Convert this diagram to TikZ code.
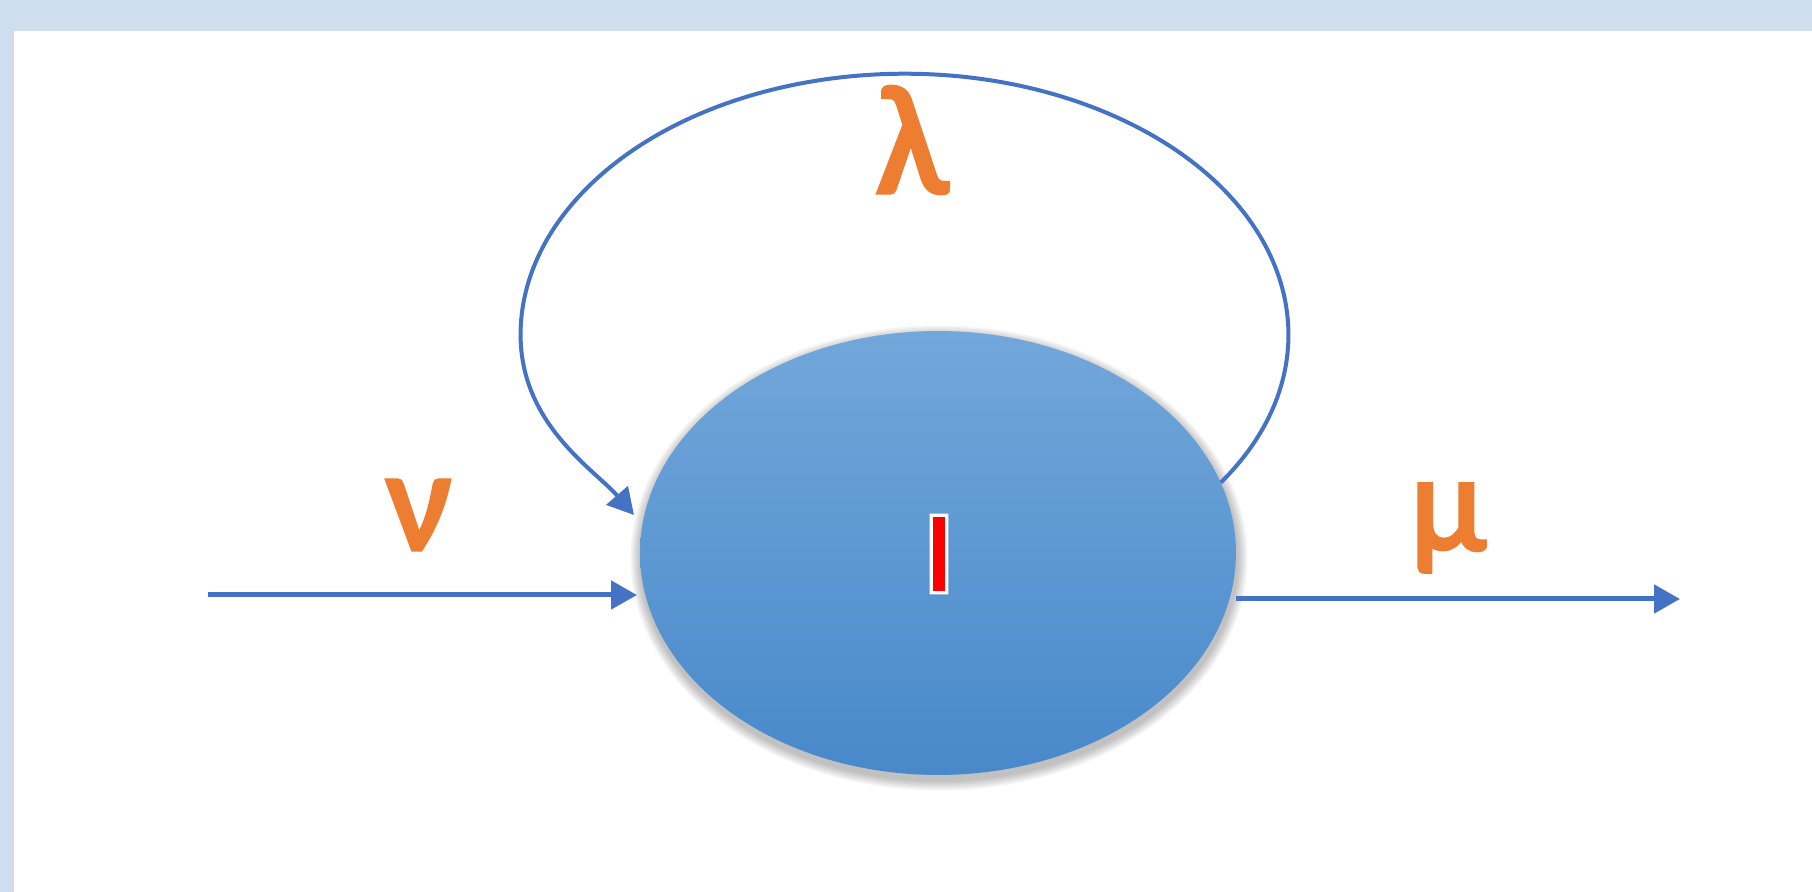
\documentclass[tikz,border=0pt]{standalone}
\usepackage{fontspec}
\usetikzlibrary{arrows.meta,shapes.geometric}
\newfontfamily\greekfont{Carlito}[FakeBold=3]
\newfontfamily\markfont{Carlito}[BoldFont={* Bold}]
\definecolor{bordbg}{HTML}{CFDEEE}
\definecolor{arrowblue}{HTML}{4472C4}
\definecolor{greekorange}{HTML}{ED7D31}
\definecolor{elltop}{HTML}{72A7DA}
\definecolor{ellbot}{HTML}{4889CA}
\newcommand{\outlinedI}[1]{\textcolor{red}{\special{pdf:code 2 Tr 1.8 w 1 1 1 RG}#1\special{pdf:code 0 Tr}}}
\begin{document}
\begin{tikzpicture}[x=0.02cm,y=0.02cm,
  conn/.style={draw=arrowblue, line width=0.1cm, -{Triangle[length=0.52cm,width=0.56cm]}},
  loopconn/.style={draw=arrowblue, line width=0.08cm, -{Triangle[length=0.52cm,width=0.56cm]}},
  greek/.style={text=greekorange, font=\greekfont\fontsize{78}{80}\selectfont, inner sep=0},
  blob/.style={ellipse, minimum width=11.92cm, minimum height=8.88cm, inner sep=0, draw=none, top color=elltop, bottom color=ellbot}]
\fill[bordbg] (0,0) rectangle (1812,892);
\fill[white] (14,0) rectangle (1812,861);
% soft shadow
\foreach \k in {1,...,6}
  \fill[black, opacity=0.045] (939,334) ellipse [x radius={5.96cm+\k*0.035cm}, y radius={4.44cm+\k*0.035cm}];
\node[blob] (e) at (938,339) {};
\node[inner sep=0, font=\markfont\bfseries\fontsize{68}{70}\selectfont] (lbl) at (939,338) {\outlinedI{I}};
% loop
\coordinate (lin) at (634,377);
\draw[loopconn] (e.14.5) arc[start angle=-34.5, end angle=180, x radius=7.68cm, y radius=5.22cm]
  .. controls +(0,-90) and +(-39,45) .. (lin);
% input / output
\coordinate (inL) at (208,297);
\coordinate (inE) at (637,297);
\draw[conn] (inL) -- (inE);
\coordinate (outE) at (1680,293);
\draw[conn] (e.east |- outE) -- (outE);
% labels
\node[greek, font=\greekfont\fontsize{88}{90}\selectfont] (lam) at (912,752) {λ};
\node[greek, font=\greekfont\fontsize{82}{84}\selectfont] (nu) at (419,377) {ν};
\node[greek] (mu) at (1448,364) {μ};
\end{tikzpicture}
\end{document}
